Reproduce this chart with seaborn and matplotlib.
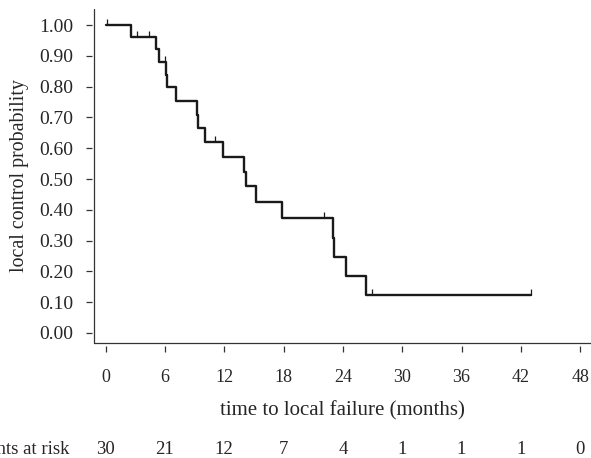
import numpy as np
import pandas as pd
import seaborn as sns
import matplotlib.pyplot as plt

# Kaplan-Meier steps (time in months, survival after step)
event_times = [0, 2.6, 5.06, 5.4, 6.1, 6.24, 7.1, 9.2, 9.35, 10.05, 11.9,
               14.0, 14.2, 15.2, 17.8, 23.0, 23.1, 24.3, 26.35, 43.05]
surv = [1.0, 0.962, 0.921, 0.879, 0.838, 0.800, 0.754, 0.708, 0.664, 0.621,
        0.572, 0.524, 0.476, 0.426, 0.373, 0.310, 0.248, 0.186, 0.124, 0.124]

# censored observations
censor_times = [0.15, 3.2, 4.35, 5.97, 11.06, 22.07, 26.95, 43.05]
censor_surv = [1.0, 0.962, 0.962, 0.879, 0.621, 0.373, 0.124, 0.124]

# number at risk table
risk_times = [0, 6, 12, 18, 24, 30, 36, 42, 48]
at_risk = [30, 21, 12, 7, 4, 1, 1, 1, 0]

y_ticks = [0.0, 0.1, 0.2, 0.3, 0.4, 0.5, 0.6, 0.7, 0.8, 0.9, 1.0]

sns.set_theme(style="ticks")
plt.rcParams['font.family'] = ['Liberation Serif', 'DejaVu Serif']

fig = plt.figure(figsize=(5.91, 4.58), dpi=100)
ax = fig.add_axes([94 / 591, 115 / 458, 1 - 94 / 591, 334 / 458])

km = pd.DataFrame({"time": event_times, "surv": surv})
sns.lineplot(data=km, x="time", y="surv", drawstyle="steps-post",
             estimator=None, color="#1a1a1a", lw=1.7, ax=ax)
ax.plot(censor_times, censor_surv, ls="none", marker=2, ms=4.2, mew=0.9,
        color="#1a1a1a")

ax.set_xlim(-1.18, 49.1)
ax.set_ylim(-0.0325, 1.052)
ax.set_xticks(risk_times)
ax.set_yticks(y_ticks)
ax.set_yticklabels([f"{v:.2f}" for v in y_ticks])

# ticks sit a little away from the axis lines
for side in ["top", "right"]:
    ax.spines[side].set_visible(False)
ax.spines["bottom"].set_position(("outward", 2.5))
ax.spines["left"].set_position(("outward", 1.2))
ax.spines["bottom"].set_visible(False)
ax.spines["left"].set_visible(False)
ax.plot([0, 1], [0, 0], transform=ax.transAxes, clip_on=False, color="#333333", lw=0.9)
ax.plot([0, 0], [0, 1], transform=ax.transAxes, clip_on=False, color="#333333", lw=0.9)

ax.tick_params(axis="x", length=4, width=0.9, color="#333333", pad=12, labelsize=13)
ax.tick_params(axis="y", length=4, width=0.9, color="#333333", pad=10, labelsize=14)

ax.set_xlabel("time to local failure (months)", fontsize=15)
ax.xaxis.set_label_coords(0.5, -0.2036)
ax.xaxis.label.set_va("center")
ax.set_ylabel("local control probability", fontsize=14.3)
ax.yaxis.set_label_coords(-0.149, 0.5)
ax.yaxis.label.set_va("center")

# at risk row
row_y = -0.318
tr = ax.get_xaxis_transform()
ax.text(-0.05, row_y, "patients at risk", transform=ax.transAxes, ha="right",
        va="center", fontsize=13.5, clip_on=False)
for t, n in zip(risk_times, at_risk):
    ax.text(t, row_y, str(n), transform=tr, ha="center", va="center",
            fontsize=13.5, clip_on=False)

fig.savefig("out.png", dpi=100)
